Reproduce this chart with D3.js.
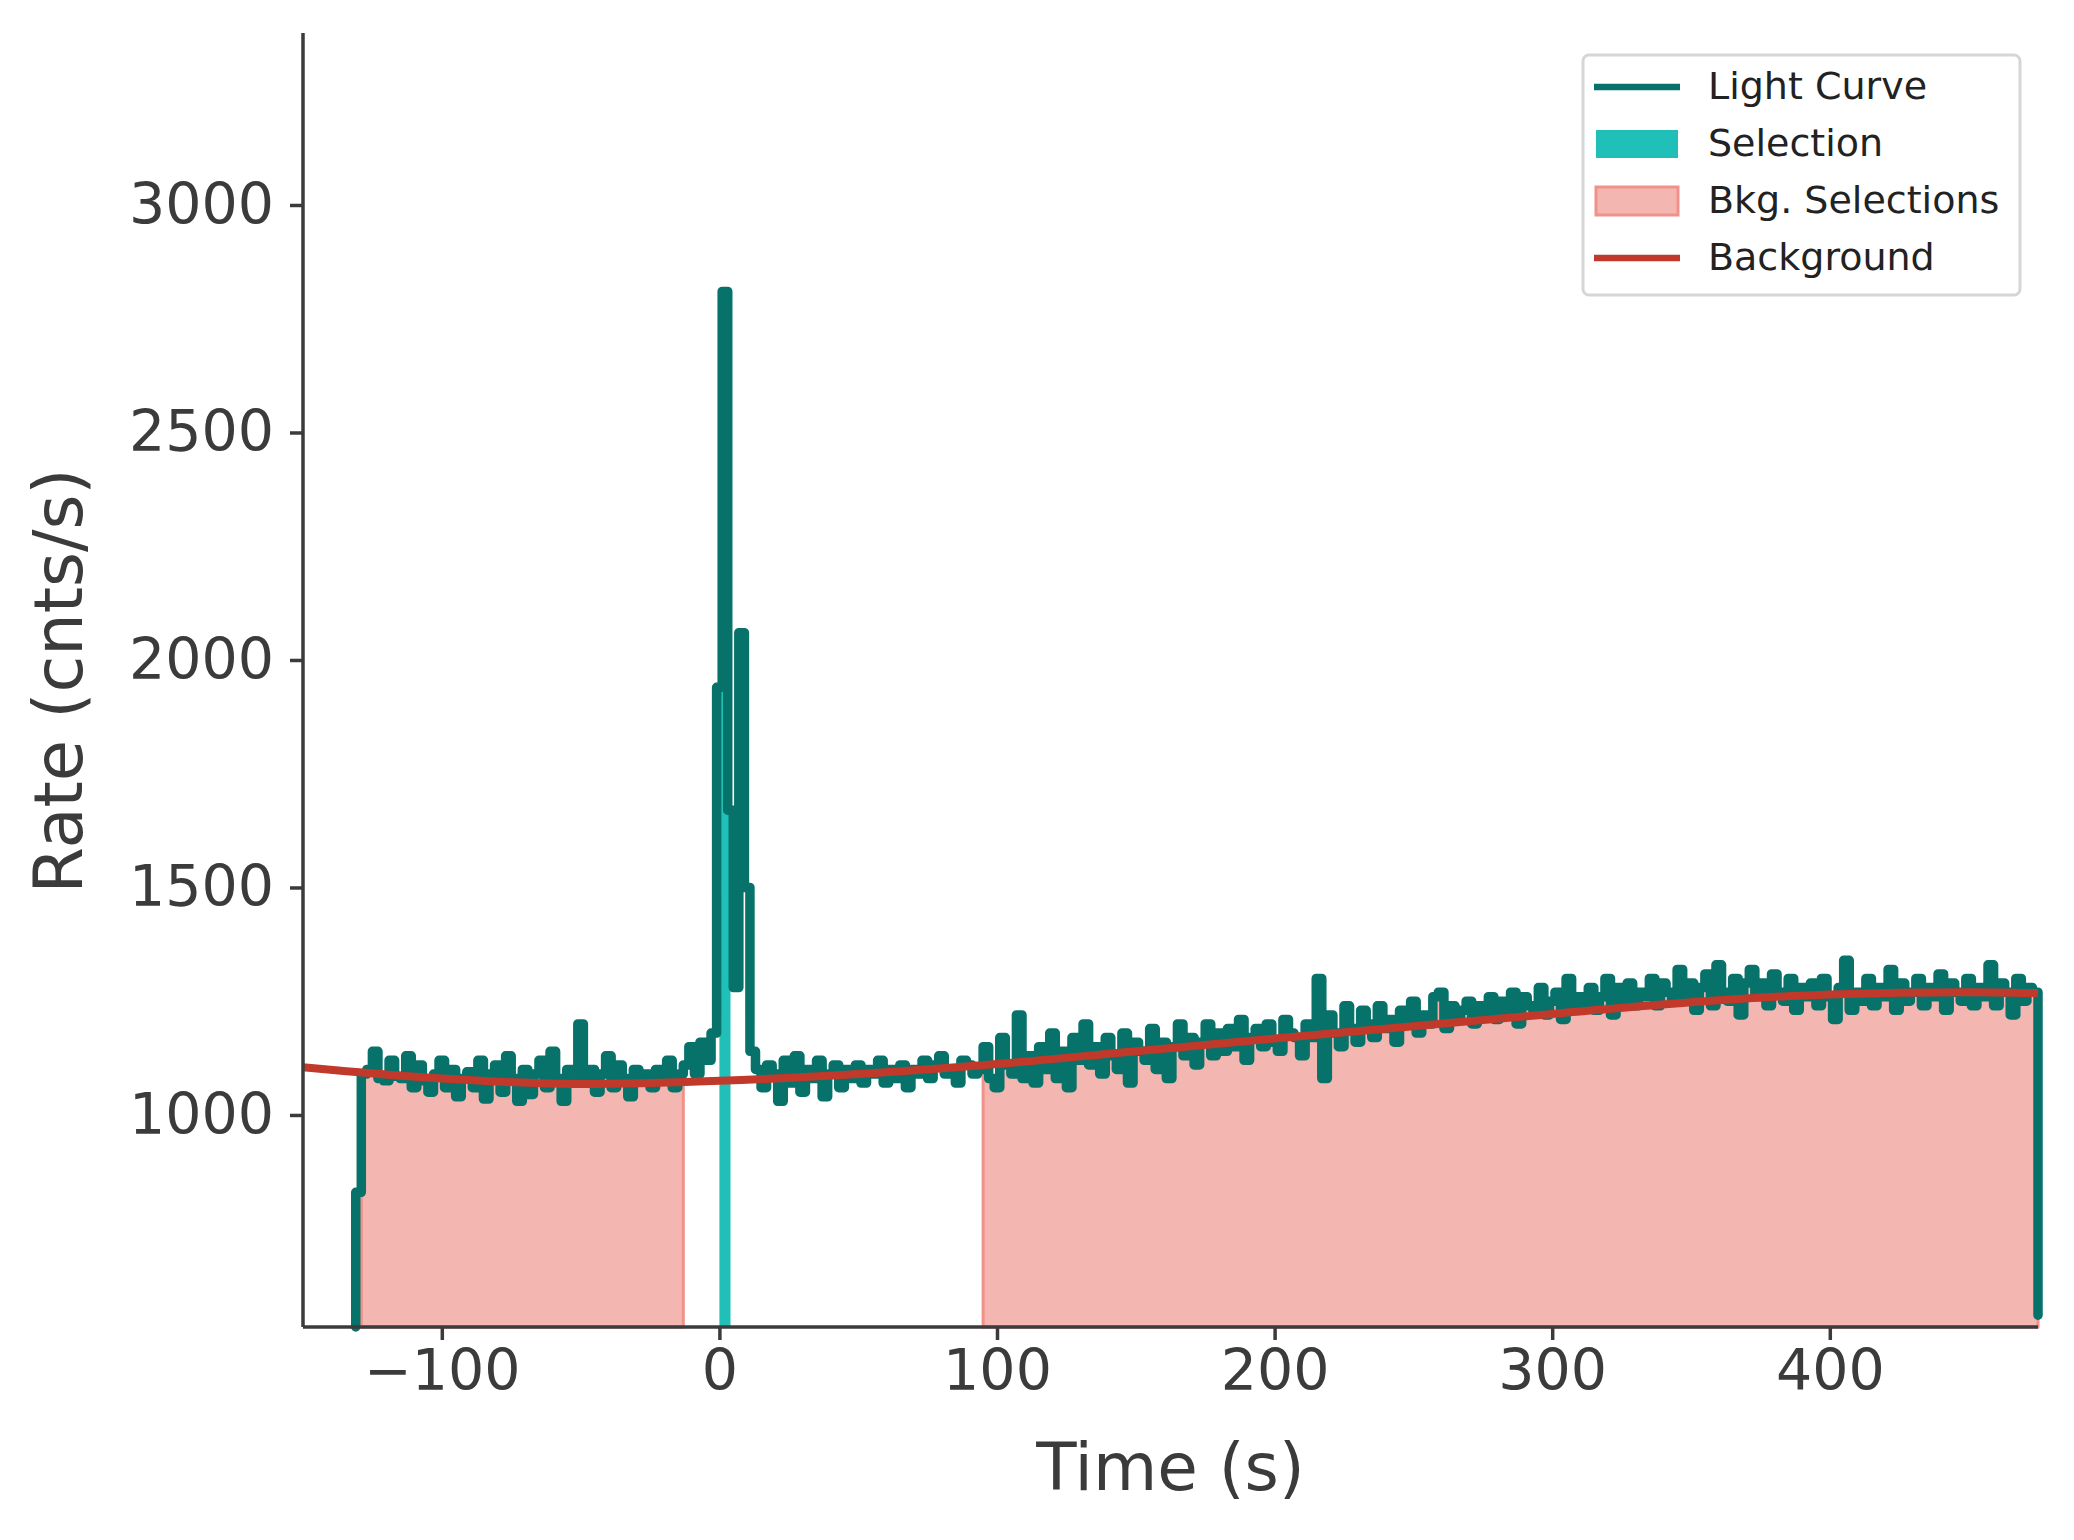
<!DOCTYPE html>
<html><head><meta charset="utf-8">
<script src="https://cdn.jsdelivr.net/npm/d3@7"></script>
<style>body{margin:0;background:#fff}svg{font-family:"DejaVu Sans",sans-serif}</style>
</head><body><svg id="c" width="2074" height="1540"></svg>
<script>
const binStart = -131, binWidth = 2, endTime = 475;
const rates = [830,
1090,1100,1140,1080,1075,1120,1085,1080,1130,1060,
1110,1075,1050,1090,1120,1060,1100,1040,1080,1095,
1060,1120,1035,1090,1110,1050,1130,1080,1030,1100,
1045,1090,1120,1060,1140,1080,1030,1100,1070,1200,
1080,1100,1050,1090,1130,1060,1110,1080,1040,1100,
1075,1090,1060,1100,1080,1120,1060,1090,
1110,1150,1090,1160,1120,1180,
1940,2810,1670,1280,2060,1500,1140,
1100,1060,1110,1090,1030,1120,1070,1130,1050,1100,
1080,1120,1040,1090,1110,1060,1100,1080,1110,1070,
1100,1090,1120,1070,1100,1080,1110,1060,1100,1090,
1120,1080,1110,1130,1090,1100,1070,1120,1110,1090,
1100,1150,1080,1060,1170,1110,1090,1220,1080,1130,
1070,1150,1100,1180,1080,1140,1060,1170,1120,1200,
1110,1150,1090,1170,1130,1100,1180,1070,1160,1140,
1120,1190,1100,1160,1080,1150,1200,1130,1170,1110,
1160,1200,1130,1180,1140,1190,1150,1210,1120,1170,
1190,1150,1200,1160,1140,1210,1180,1170,1130,1200,
1170,1300,1080,1220,1180,1150,1240,1190,1160,1230,
1200,1170,1240,1190,1210,1160,1230,1200,1250,1180,
1220,1200,1260,1270,1190,1240,1210,1230,1250,1200,
1240,1220,1260,1210,1250,1230,1270,1200,1260,1240,
1230,1280,1220,1250,1270,1210,1300,1230,1260,1240,
1280,1230,1260,1300,1220,1280,1250,1290,1240,1270,
1260,1300,1240,1290,1270,1250,1320,1260,1290,1230,
1280,1310,1240,1330,1270,1250,1300,1220,1290,1320,
1260,1290,1240,1310,1270,1250,1300,1230,1280,1260,
1290,1240,1300,1260,1210,1280,1340,1230,1270,1250,
1300,1240,1280,1260,1320,1230,1290,1250,1270,1300,
1240,1280,1260,1310,1230,1290,1270,1250,1300,1240,
1280,1260,1330,1240,1290,1270,1220,1300,1250,1280,
1270];
const startRate = 534;
const endRate = 560;
const selection = [0, 4];
const bkgSelections = [[-129, -13], [95, 475]];
const bkgTimes = [-150,-100,-50,0,50,100,150,200,250,300,350,400,450,475];
const bkgRates = [1105,1080,1068,1075,1090,1112,1140,1168,1195,1222,1248,1265,1270,1268];
const xTicks = [-100,0,100,200,300,400];
const yTicks = [1000,1500,2000,2500,3000];
const legendItems = ["Light Curve","Selection","Bkg. Selections","Background"];

const pts = [{t: binStart, r: startRate}].concat(rates.map((r,i)=>({t: binStart + i*binWidth, r})));
pts.push({t: endTime, r: endRate});
function rateAt(t){ let i=Math.floor((t-binStart)/binWidth); i=Math.max(0,Math.min(rates.length-1,i)); return rates[i]; }

const svg = d3.select("#c");
const x = d3.scaleLinear().domain([-150,475]).range([303,2038]);
const y = d3.scaleLinear().domain([534,3378]).range([1327,33]);
const ink = "#3b3b3b";

function segPts(a,b){ const p=[{t:a,r:rateAt(a)}]; rates.forEach((r,i)=>{ const t=binStart+i*binWidth; if(t>a && t<b) p.push({t,r}); }); p.push({t:b,r:rateAt(Math.min(b,endTime-0.001))}); return p; }
const area = d3.area().curve(d3.curveStepAfter).x(d=>x(d.t)).y0(y(534)).y1(d=>y(d.r));
bkgSelections.forEach(([a,b])=>{
  svg.append("path").attr("d", area(segPts(a,b))).attr("fill","#f4b6b0").attr("stroke","#f0928a").attr("stroke-width",3);
});
svg.append("path").attr("d", area(segPts(selection[0],selection[1]))).attr("fill","#20c0b8");

svg.append("path").datum(pts).attr("d", d3.line().curve(d3.curveStepAfter).x(d=>x(d.t)).y(d=>y(d.r)))
  .attr("fill","none").attr("stroke","#06726a").attr("stroke-width",9.5).attr("stroke-linejoin","round").attr("stroke-linecap","round");

svg.append("path").datum(bkgTimes.map((t,i)=>[t,bkgRates[i]]))
  .attr("d", d3.line().curve(d3.curveMonotoneX).x(d=>x(d[0])).y(d=>y(d[1])))
  .attr("fill","none").attr("stroke","#c0392b").attr("stroke-width",8);

const xa = svg.append("g").attr("transform","translate(0,1327)").call(d3.axisBottom(x).tickValues(xTicks).tickSize(13).tickPadding(10).tickFormat(d=>d<0?"\u2212"+Math.abs(d):String(d)));
const ya = svg.append("g").attr("transform","translate(303,0)").call(d3.axisLeft(y).tickValues(yTicks).tickSize(13).tickPadding(16).tickFormat(d3.format("d")));
[xa,ya].forEach(a=>{ a.select(".domain").attr("stroke",ink).attr("stroke-width",3.5);
  a.selectAll(".tick line").attr("stroke",ink).attr("stroke-width",3.5);
  a.selectAll("text").attr("fill",ink).attr("font-size",57).attr("font-family","DejaVu Sans"); });
ya.select(".domain").attr("d","M0,1327V33");
xa.select(".domain").attr("d","M303,0H2038");

svg.append("text").attr("x",x(162.5)).attr("y",1490).attr("text-anchor","middle").attr("font-size",66).attr("fill",ink).text("Time (s)");
svg.append("text").attr("transform","translate(82,681) rotate(-90)").attr("text-anchor","middle").attr("font-size",67).attr("fill",ink).text("Rate (cnts/s)");

const lg = svg.append("g");
lg.append("rect").attr("x",1583).attr("y",55).attr("width",437).attr("height",240).attr("rx",6).attr("fill","#fff").attr("fill-opacity",0.85).attr("stroke","#d6d6d6").attr("stroke-width",3);
legendItems.forEach((n,i)=>{
  const yy = 87 + i*57;
  if(i===0||i===3) lg.append("line").attr("x1",1594).attr("x2",1680).attr("y1",yy).attr("y2",yy).attr("stroke",i===0?"#06726a":"#c0392b").attr("stroke-width",6.5);
  else lg.append("rect").attr("x",1596).attr("y",yy-14).attr("width",82).attr("height",28).attr("fill",i===1?"#20c0b8":"#f4b6b0").attr("stroke",i===1?"none":"#f0928a").attr("stroke-width",3);
  lg.append("text").attr("x",1708).attr("y",yy+12).attr("font-size",38).attr("fill","#222").text(n);
});
</script></body></html>
